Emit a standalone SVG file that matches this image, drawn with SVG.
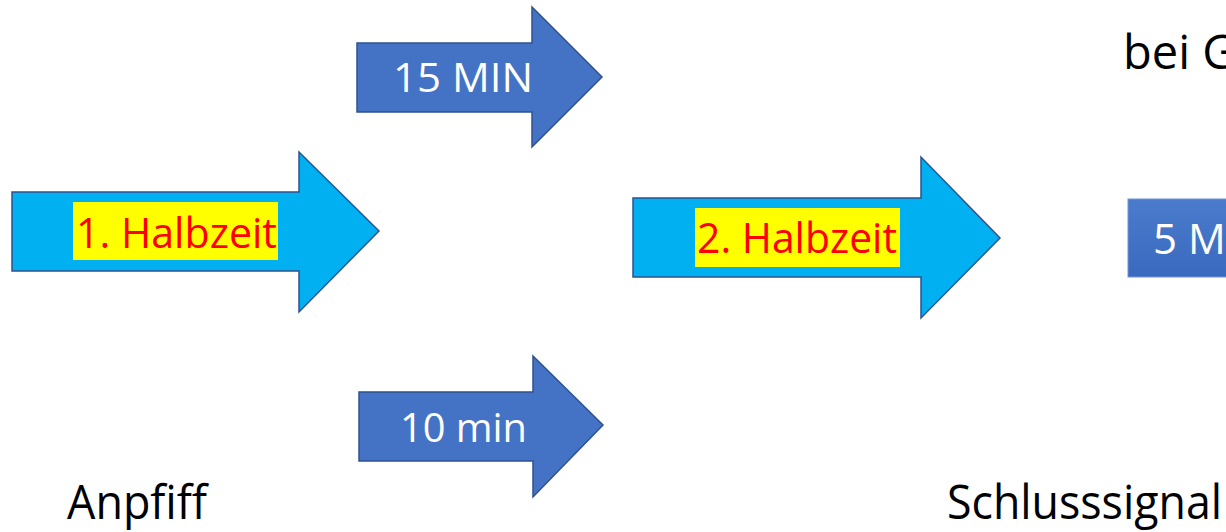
<svg xmlns="http://www.w3.org/2000/svg" width="1226" height="532" viewBox="0 0 1226 532">
<style>
.cyan{fill:#00B0F0;stroke:#2F528F;stroke-width:1.5}
.blue{fill:#4472C4;stroke:#2F528F;stroke-width:1.5}
.t{font-family:"Open Sans","Liberation Sans",sans-serif}
.red{fill:#FF0000;font-size:42px}
.wht{fill:#FFFFFF;font-size:40px}
.blk{fill:#000000;font-size:47px}
.hl{fill:#FFFF00}
</style>
<defs>
<linearGradient id="g5" x1="0" y1="0" x2="0" y2="1">
<stop offset="0" stop-color="#4A7BCB"/>
<stop offset="1" stop-color="#3A6AC0"/>
</linearGradient>
</defs>
<rect width="1226" height="532" fill="#FFFFFF"/>
<g id="halbzeit1">
<polygon class="cyan" points="12,192 299,192 299,152 379,231 299,312 299,271 12,271"/>
<rect class="hl" x="73" y="202" width="205" height="58"/>
<text class="t red" x="76" y="248" textLength="201" lengthAdjust="spacingAndGlyphs">1. Halbzeit</text>
</g>
<g id="pause15">
<polygon class="blue" points="357,43 532,43 532,7 602,77 532,147 532,112 357,112"/>
<text class="t wht" x="393" y="92" textLength="140" lengthAdjust="spacingAndGlyphs">15 MIN</text>
</g>
<g id="pause10">
<polygon class="blue" points="359,392 533,392 533,356 603,425 533,497 533,461 359,461"/>
<text class="t wht" x="400" y="442" textLength="127" lengthAdjust="spacingAndGlyphs">10 min</text>
</g>
<g id="halbzeit2">
<polygon class="cyan" points="633,198 921,198 921,157 1000,238 921,318 921,277 633,277"/>
<rect class="hl" x="695" y="208" width="205" height="59"/>
<text class="t red" x="697" y="253" textLength="200" lengthAdjust="spacingAndGlyphs">2. Halbzeit</text>
</g>
<g id="pause5">
<rect x="1128" y="199" width="110" height="78" fill="url(#g5)" stroke="#6F95D6" stroke-width="1"/>
<text class="t" x="1153" y="254" fill="#FFFFFF" font-size="42">5 M</text>
</g>
<g id="labels">
<text class="t blk" x="1123" y="69">bei G</text>
<text class="t blk" x="67" y="519" textLength="140" lengthAdjust="spacingAndGlyphs">Anpfiff</text>
<text class="t blk" x="947" y="519" textLength="275" lengthAdjust="spacingAndGlyphs">Schlusssignal</text>
</g>
<g id="connectors"></g>
</svg>
